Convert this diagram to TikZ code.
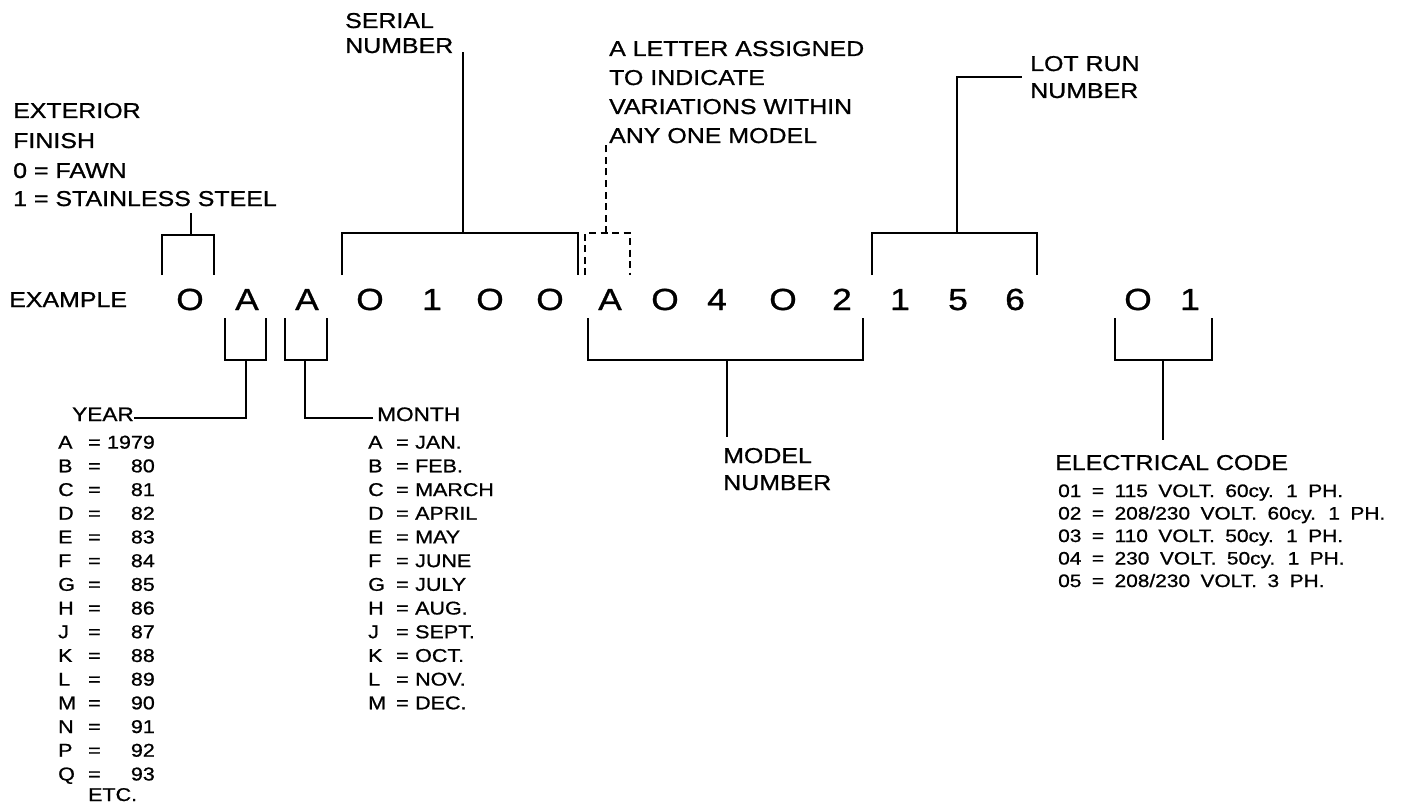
\documentclass[tikz,border=0pt]{standalone}
\usepackage{fontspec}
\setmainfont[FakeStretch=1.16,FakeBold=0.9]{Liberation Sans}
\newcommand\elfont{\fontsize{18}{22}\selectfont\spaceskip 10.5pt\relax}
\begin{document}
\begin{tikzpicture}[x=1pt,y=-1pt,
  lbl/.style={font=\fontsize{21.5}{26}\selectfont,inner sep=0pt,anchor=base west},
  hd/.style={font=\fontsize{19.5}{24}\selectfont,inner sep=0pt,anchor=base west},
  lst/.style={font=\fontsize{18.5}{22}\selectfont,inner sep=0pt,anchor=base west},
  lstr/.style={lst,anchor=base east},
  elst/.style={font=\elfont,inner sep=0pt,anchor=base west},
  dig/.style={font=\fontsize{30.5}{36}\selectfont,inner sep=0pt,anchor=base},
  ln/.style={line width=1.7pt,line cap=butt,line join=miter},
  dln/.style={ln,dash pattern=on 7pt off 4.5pt}]
\useasboundingbox (0,0) rectangle (1404,805);
% labels above
\node[lbl] (ser1) at (345,28) {SERIAL};
\node[lbl] (ser2) at (345,53) {NUMBER};
\node[lbl] (let1) at (609,56) {A LETTER ASSIGNED};
\node[lbl] (let2) at (609,85) {TO INDICATE};
\node[lbl] (let3) at (609,114) {VARIATIONS WITHIN};
\node[lbl] (let4) at (609,143) {ANY ONE MODEL};
\node[lbl] (lot1) at (1030,71) {LOT RUN};
\node[lbl] (lot2) at (1030,98) {NUMBER};
\node[lbl] (ext1) at (13,118) {EXTERIOR};
\node[lbl] (ext2) at (13,148) {FINISH};
\node[lbl] (ext3) at (13,178) {0 = FAWN};
\node[lbl] (ext4) at (13,206) {1 = STAINLESS STEEL};
\node[lbl] (ex) at (9,307) {EXAMPLE};
% example characters
\foreach \c/\x [count=\i] in {O/190,A/247,A/307,O/370,1/432,O/490,O/550,A/610,O/665,4/717,O/783,2/842,1/900,5/958,6/1015,O/1138,1/1190}
  \node[dig] (d\i) at (\x,310) {\c};
% brackets above
\coordinate (exL) at (162,275); \coordinate (exR) at (214,275);
\draw[ln] (exL) |- (191,235) coordinate (exT) -| (exR);
\draw[ln] (exT) -- (191,213) coordinate (exS);
\coordinate (seL) at (342,275); \coordinate (seR) at (578,275);
\draw[ln] (seL) |- (463,233) coordinate (seT) -| (seR);
\draw[ln] (seT) -- (463,52) coordinate (seS);
\coordinate (vaL) at (585,275); \coordinate (vaR) at (630,275);
\draw[dln] (vaL) |- (606,233) coordinate (vaT) -| (vaR);
\draw[dln] (vaT) -- (606,145) coordinate (vaS);
\coordinate (loL) at (872,275); \coordinate (loR) at (1037,275);
\draw[ln] (loL) |- (957,233) coordinate (loT) -| (loR);
\draw[ln] (loT) |- (1022,77) coordinate (loS);
% brackets below
\coordinate (yrL) at (225,318); \coordinate (yrR) at (266,318);
\draw[ln] (yrL) |- (246,360) coordinate (yrB) -| (yrR);
\draw[ln] (yrB) |- (134,418) coordinate (yrS);
\coordinate (moL) at (285,318); \coordinate (moR) at (327,318);
\draw[ln] (moL) |- (305,360) coordinate (moB) -| (moR);
\draw[ln] (moB) |- (373,418) coordinate (moS);
\coordinate (mdL) at (588,318); \coordinate (mdR) at (863,318);
\draw[ln] (mdL) |- (727,360) coordinate (mdB) -| (mdR);
\draw[ln] (mdB) -- (727,437) coordinate (mdS);
\coordinate (elL) at (1115,318); \coordinate (elR) at (1212,318);
\draw[ln] (elL) |- (1163,360) coordinate (elB) -| (elR);
\draw[ln] (elB) -- (1163,440) coordinate (elS);
% labels below
\node[hd] (year) at (72,421) {YEAR};
\node[hd] (month) at (377,421) {MONTH};
\node[lbl] (mod1) at (723,463) {MODEL};
\node[lbl] (mod2) at (723,490) {NUMBER};
\node[lbl] (elec) at (1055,470) {ELECTRICAL CODE};
% year list
\foreach \l/\v [count=\i] in {A/1979,B/80,C/81,D/82,E/83,F/84,G/85,H/86,J/87,K/88,L/89,M/90,N/91,P/92,Q/93}{
  \node[lst] (yl\i) at (58,{448.6+23.7*(\i-1)}) {\l};
  \node[lst] (ye\i) at (88,{448.6+23.7*(\i-1)}) {=};
  \node[lstr] (yv\i) at (155,{448.6+23.7*(\i-1)}) {\v};
}
\node[lst] (etc) at (88,801) {ETC.};
% month list
\foreach \l/\v [count=\i] in {A/JAN.,B/FEB.,C/MARCH,D/APRIL,E/MAY,F/JUNE,G/JULY,H/AUG.,J/SEPT.,K/OCT.,L/NOV.,M/DEC.}{
  \node[lst] (ml\i) at (368,{448.6+23.7*(\i-1)}) {\l};
  \node[lst] (me\i) at (396,{448.6+23.7*(\i-1)}) {=};
  \node[lst] (mv\i) at (415,{448.6+23.7*(\i-1)}) {\v};
}
% electrical list
\node[elst] (e1) at (1058,497) {01 = 115 VOLT. 60cy. 1 PH.};
\node[elst] (e2) at (1058,519.5) {02 = 208/230 VOLT. 60cy. 1 PH.};
\node[elst] (e3) at (1058,542) {03 = 110 VOLT. 50cy. 1 PH.};
\node[elst] (e4) at (1058,564.5) {04 = 230 VOLT. 50cy. 1 PH.};
\node[elst] (e5) at (1058,587) {05 = 208/230 VOLT. 3 PH.};
\end{tikzpicture}
\end{document}
